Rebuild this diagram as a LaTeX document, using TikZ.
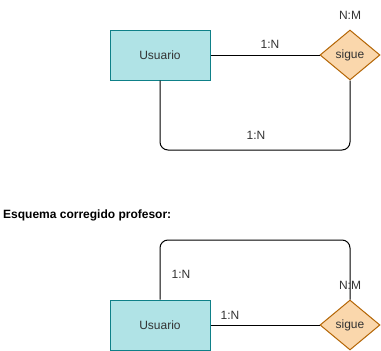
\documentclass[tikz,border=0pt]{standalone}
\usepackage{fontspec}
\setmainfont{Liberation Sans}
\usetikzlibrary{shapes.geometric}
\definecolor{entfill}{HTML}{B0E3E6}
\definecolor{entline}{HTML}{0E8088}
\definecolor{relfill}{HTML}{FAD7AC}
\definecolor{relline}{HTML}{B46504}
\definecolor{txt}{HTML}{333333}
\begin{document}
\begin{tikzpicture}[x=1pt,y=-1pt,
  entity/.style={draw=entline,fill=entfill,line width=1pt,minimum width=100pt,minimum height=50pt,inner sep=0pt,text=txt,font=\fontsize{12}{14}\selectfont},
  relation/.style={diamond,draw=relline,fill=relfill,line width=1pt,minimum width=60pt,minimum height=50pt,inner sep=0pt,aspect=1.2,text=txt,font=\fontsize{12}{14}\selectfont},
  card/.style={text=txt,font=\fontsize{12}{14}\selectfont,inner sep=0pt},
  link/.style={draw=black,line width=1pt,rounded corners=8pt}]
\useasboundingbox (0,0) rectangle (381,351);
\fill[white] (0,0) rectangle (381,351);

% first model
\node[entity] (u1) at (160,55) {Usuario};
\node[relation] (s1) at (350,55) {sigue};
\coordinate (c1a) at (160,150);
\coordinate (c1b) at (350,150);
\draw[link] (u1.east) -- (s1.west);
\draw[link] (u1.south) -- (c1a) -- (c1b) -- (s1.south);
\node[card] (l1) at (270,44) {1:N};
\node[card] (l2) at (256,135) {1:N};
\node[card] (l3) at (350,15) {N:M};

% corrected model
\node[anchor=west,inner sep=0pt,font=\bfseries\fontsize{12}{14}\selectfont] (title) at (3,215) {Esquema corregido profesor:};
\node[entity] (u2) at (160,325) {Usuario};
\node[relation] (s2) at (350,325) {sigue};
\coordinate (c2a) at (160,240);
\coordinate (c2b) at (350,240);
\draw[link] (u2.east) -- (s2.west);
\draw[link] (u2.north) -- (c2a) -- (c2b) -- (s2.north);
\node[card] (l4) at (230,315) {1:N};
\node[card] (l5) at (181,274) {1:N};
\node[card] (l6) at (350,285) {N:M};
\end{tikzpicture}
\end{document}
